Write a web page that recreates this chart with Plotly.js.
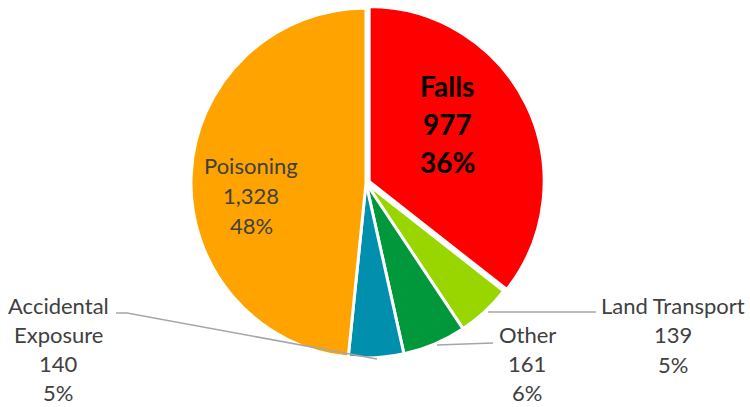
<!DOCTYPE html>
<html>
<head>
<meta charset="utf-8">
<script src="https://cdn.plot.ly/plotly-3.0.1.min.js"></script>
<style>html,body{margin:0;padding:0;background:#fff;}#chart{width:750px;height:407px;}</style>
</head>
<body>
<div id="chart"></div>
<script>
// ---- data ----
var categories = ["Falls", "Land Transport", "Other", "Accidental Exposure", "Poisoning"];
var values = [977, 139, 161, 140, 1328];
var colors = ["#FF0000", "#99D600", "#00983A", "#008FAC", "#FFA300"];
var labelLines = [["Falls"], ["Land Transport"], ["Other"], ["Accidental", "Exposure"], ["Poisoning"]];

var W = 750, H = 407;
function px(x) { return x / W; }
function py(y) { return 1 - y / H; }

var total = values.reduce(function (a, b) { return a + b; }, 0);
function fmt(v) { return v.toLocaleString('en-US'); }
function pct(v) { return Math.round(v / total * 100) + '%'; }

// pie geometry (pixel): center (366,183), radius 175, pull on Falls
var pullMax = 0.02;
var cx = 366, cy = 183, r = 175, half = r * (1 + pullMax);

var trace = {
  type: 'pie',
  labels: categories,
  values: values,
  sort: false,
  direction: 'clockwise',
  rotation: 0,
  pull: [pullMax, 0, 0, 0, 0],
  marker: { colors: colors, line: { color: '#FFFFFF', width: 3 } },
  textinfo: 'none',
  hoverinfo: 'none',
  showlegend: false,
  domain: { x: [px(cx - half), px(cx + half)], y: [py(cy + half), py(cy - half)] }
};

// label placements (pixel centres of first line), styles
var place = [
  { x: 447, y: 86, dy: 38, size: 28, color: '#000000', bold: true },
  { x: 673, y: 305, dy: 29.5, size: 22, color: '#404040' },
  { x: 527, y: 334, dy: 29, size: 22, color: '#404040' },
  { x: 58, y: 305, dy: 29, size: 22, color: '#404040' },
  { x: 251, y: 165, dy: 30, size: 22, color: '#404040' }
];

var annotations = [];
categories.forEach(function (c, i) {
  var lines = labelLines[i].concat([fmt(values[i]), pct(values[i])]);
  var p = place[i];
  lines.forEach(function (t, k) {
    annotations.push({
      xref: 'paper', yref: 'paper',
      x: px(p.x), y: py(p.y + k * p.dy),
      xanchor: 'center', yanchor: 'middle',
      borderpad: 0,
      text: p.bold ? '<b>' + t + '</b>' : t,
      showarrow: false,
      font: { family: 'Lato, "Open Sans", sans-serif', size: p.size, color: p.color }
    });
  });
});

// leader lines (pixel paths)
var leaders = [
  [[488, 312], [596, 312]],
  [[437, 345], [493, 343]],
  [[377, 359], [127, 313], [116, 313]]
];
var shapes = leaders.map(function (pts) {
  var d = pts.map(function (p, k) { return (k ? 'L' : 'M') + px(p[0]) + ',' + py(p[1]); }).join(' ');
  return { type: 'path', xref: 'paper', yref: 'paper', path: d, line: { color: '#A6A6A6', width: 1.5 } };
});

var layout = {
  width: W, height: H,
  margin: { l: 0, r: 0, t: 0, b: 0 },
  paper_bgcolor: '#FFFFFF',
  plot_bgcolor: '#FFFFFF',
  annotations: annotations,
  shapes: shapes,
  showlegend: false
};

Plotly.newPlot('chart', [trace], layout, { displayModeBar: false, staticPlot: true });
</script>
</body>
</html>
